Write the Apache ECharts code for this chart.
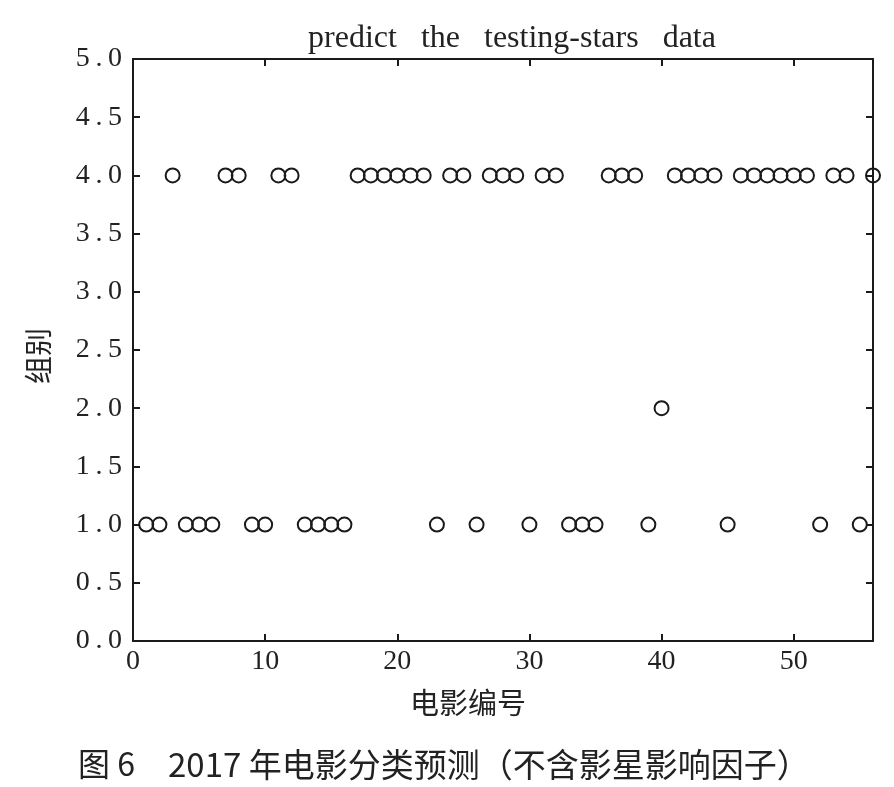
<!DOCTYPE html>
<html><head><meta charset="utf-8">
<script src="https://cdn.jsdelivr.net/npm/echarts@6/dist/echarts.min.js"></script>
<style>html,body{margin:0;padding:0;background:#fff}#c{width:894px;height:787px}</style>
</head><body><div id="c"></div>
<script>
const movieIds = [1,2,3,4,5,6,7,8,9,10,11,12,13,14,15,16,17,18,19,20,21,22,23,24,25,26,27,28,29,30,31,32,33,34,35,36,37,38,39,40,41,42,43,44,45,46,47,48,49,50,51,52,53,54,55,56];
const groups   = [1,1,4,1,1,1,4,4,1,1,4,4,1,1,1,1,4,4,4,4,4,4,1,4,4,1,4,4,4,1,4,4,1,1,1,4,4,4,1,2,4,4,4,4,1,4,4,4,4,4,4,1,4,4,1,4];
const titleText = 'predict   the   testing-stars   data';
const xName = '电影编号';
const yName = '组别';
const captionLabel = '图 6';
const captionText = '2017 年电影分类预测（不含影星影响因子）';

const serif = '"Liberation Serif","DejaVu Serif",serif';
const cjk = '"Noto Sans CJK SC","Liberation Serif",serif';
const axisLineStyle = () => ({show:true, onZero:false, lineStyle:{color:'#1a1a1a', width:2}});
const tickStyle = () => ({show:true, inside:true, length:7, lineStyle:{color:'#1a1a1a', width:2}});

const chart = echarts.init(document.getElementById('c'), null, {renderer:'canvas'});
chart.setOption({
  animation:false,
  backgroundColor:'#fff',
  title:{text:titleText, left:507, top:18, textAlign:'center',
    textStyle:{fontFamily:serif, fontSize:32, fontWeight:'normal', color:'#222'}},
  graphic:[
    {type:'text', left:78, top:748, style:{text:captionLabel, font:'32px '+cjk, fill:'#222'}},
    {type:'text', left:168, top:748, style:{text:captionText, font:'33px '+cjk, fill:'#222'}},
    {type:'text', x:38, y:356, rotation:Math.PI/2, style:{text:yName, font:'28px '+cjk, fill:'#222', align:'center', verticalAlign:'middle'}},
    {type:'text', x:468, y:703, style:{text:xName, font:'29px '+cjk, fill:'#222', align:'center', verticalAlign:'middle'}}
  ],
  grid:{left:133, right:21, top:59, bottom:146, containLabel:false},
  xAxis:[
    {type:'value', min:0, max:56, interval:10, position:'bottom',
     axisLine:axisLineStyle(), axisTick:tickStyle(), splitLine:{show:false},
     axisLabel:{margin:7, fontFamily:serif, fontSize:28, color:'#222',
       formatter:v=> (v%10===0 ? String(v) : '')}},
    {type:'value', min:0, max:56, interval:10, position:'top',
     axisLine:axisLineStyle(), axisTick:tickStyle(), splitLine:{show:false}, axisLabel:{show:false}}
  ],
  yAxis:[
    {type:'value', min:0, max:5, interval:0.5, position:'left',
     axisLine:axisLineStyle(), axisTick:tickStyle(), splitLine:{show:false},
     axisLabel:{margin:11, fontFamily:serif, fontSize:28, color:'#222',
       formatter:v=>v.toFixed(1).split('').join('\u2009')}},
    {type:'value', min:0, max:5, interval:0.5, position:'right',
     axisLine:axisLineStyle(), axisTick:tickStyle(), splitLine:{show:false}, axisLabel:{show:false}}
  ],
  series:[{
    type:'scatter', xAxisIndex:0, yAxisIndex:0, clip:false,
    data: movieIds.map((id,i)=>[id, groups[i]]),
    symbol:'circle', symbolSize:14,
    itemStyle:{color:'rgba(255,255,255,0)', borderColor:'#1a1a1a', borderWidth:2, opacity:1}
  }]
});
</script></body></html>
